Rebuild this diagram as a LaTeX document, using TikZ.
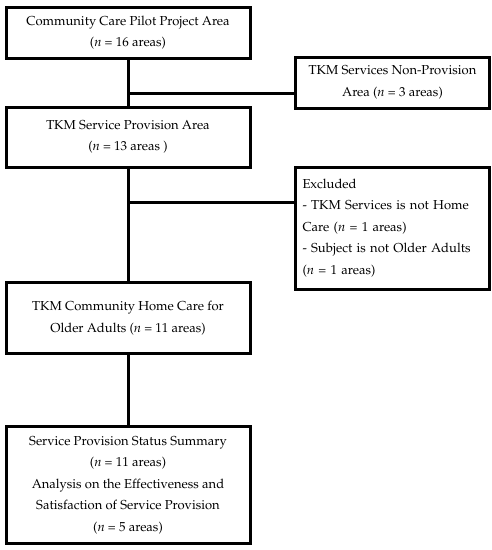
\documentclass[tikz,border=0pt]{standalone}
\usepackage[T1]{fontenc}
\usepackage{mathpazo}
\begin{document}
\begin{tikzpicture}[x=1pt,y=-1pt,
  box/.style={draw=black,line width=3pt,fill=white,inner sep=0pt,align=center,
    font=\fontsize{13}{21.5}\selectfont},
  conn/.style={draw=black,line width=3pt}]
\useasboundingbox (0,0) rectangle (492,550);
\fill[white] (0,0) rectangle (492,550);
\node[box,minimum width=244pt,minimum height=51pt] (b1) at (128,32.5)
  {Community Care Pilot Project Area\\(\textit{n} = 16 areas)};
\node[box,minimum width=194pt,minimum height=51pt] (b2) at (392.5,82.5)
  {TKM Services Non-Provision\\Area (\textit{n} = 3 areas)};
\node[box,minimum width=244pt,minimum height=60pt] (b3) at (128,137)
  {TKM Service Provision Area\\(\textit{n} = 13 areas )};
\node[box,minimum width=194pt,minimum height=122pt,align=left,text width=180pt,inner xsep=4pt] (b4) at (392.5,228)
  {Excluded\\\makebox[180pt][s]{- TKM Services is not Home}\\Care (\textit{n} = 1 areas)\\\makebox[180pt][s]{- Subject is not Older Adults}\\(\textit{n} = 1 areas)};
\node[box,minimum width=244pt,minimum height=71pt] (b5) at (128,318)
  {TKM Community Home Care for\\Older Adults (\textit{n} = 11 areas)};
\node[box,minimum width=244pt,minimum height=117pt] (b6) at (128,485)
  {Service Provision Status Summary\\(\textit{n} = 11 areas)\\Analysis on the Effectiveness and\\Satisfaction of Service Provision\\(\textit{n} = 5 areas)};
\coordinate (j1) at (128,93);
\coordinate (j2) at (128,202);
\draw[conn] (b1.south) -- (b3.north);
\draw[conn] (b3.south) -- (b5.north);
\draw[conn] (b5.south) -- (b6.north);
\draw[conn] (j1) -- (j1 -| b2.west);
\draw[conn] (j2) -- (j2 -| b4.west);
\end{tikzpicture}
\end{document}
